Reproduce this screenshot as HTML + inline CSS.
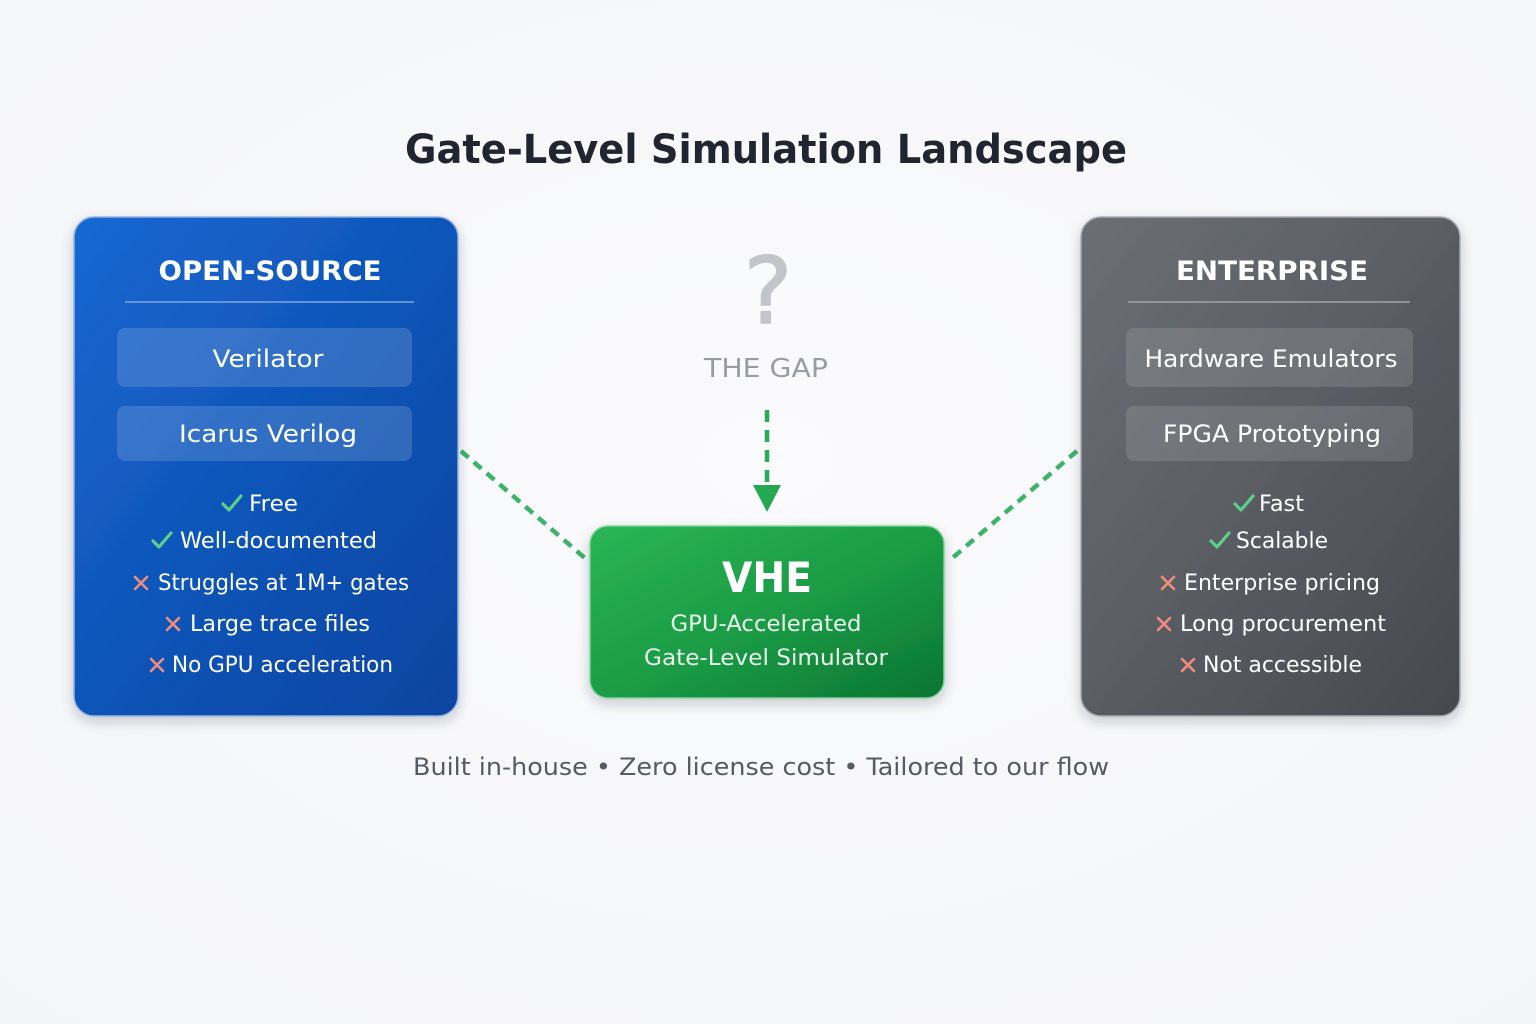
<!DOCTYPE html>
<html><head><meta charset="utf-8"><style>
html,body{margin:0;padding:0;background:#f8f9fb;}
svg{display:block;}
text{font-family:"DejaVu Sans","Liberation Sans",sans-serif;}
</style></head><body>
<svg width="1536" height="1024" viewBox="0 0 1536 1024" xmlns="http://www.w3.org/2000/svg">
<defs>
<radialGradient id="bg" cx="50%" cy="45%" r="75%">
<stop offset="0" stop-color="#fbfbfd"/><stop offset="1" stop-color="#f4f5f8"/>
</radialGradient>
<linearGradient id="blue" x1="0" y1="0" x2="1" y2="1">
<stop offset="0" stop-color="#1868d2"/><stop offset="0.5" stop-color="#0f55b8"/><stop offset="1" stop-color="#0b44a0"/>
</linearGradient>
<linearGradient id="gray" x1="0" y1="0" x2="1" y2="1">
<stop offset="0" stop-color="#6c6f75"/><stop offset="0.5" stop-color="#5a5d63"/><stop offset="1" stop-color="#46494f"/>
</linearGradient>
<linearGradient id="green" x1="0" y1="0" x2="1" y2="1">
<stop offset="0" stop-color="#2bb555"/><stop offset="0.55" stop-color="#1a9a44"/><stop offset="1" stop-color="#0b7433"/>
</linearGradient>
<filter id="sh" x="-10%" y="-10%" width="120%" height="125%">
<feDropShadow dx="0" dy="5" stdDeviation="6" flood-color="#1a2030" flood-opacity="0.22"/>
</filter>
<path id="ck" d="M0,8 L6,14 L18,0" fill="none" stroke="#5dcf8a" stroke-width="3.2" stroke-linecap="round" stroke-linejoin="round"/>
<path id="xx" d="M0,0 L12,12 M12,0 L0,12" fill="none" stroke="#f28d7d" stroke-width="2.6" stroke-linecap="round"/>
</defs>
<rect width="1536" height="1024" fill="url(#bg)"/>

<text x="766" y="163" text-anchor="middle" font-size="40" font-weight="bold" fill="#22252f" textLength="722" lengthAdjust="spacingAndGlyphs">Gate-Level Simulation Landscape</text>

<!-- connectors -->
<line x1="461" y1="451" x2="586" y2="559" stroke="#3bb36a" stroke-width="4.5" stroke-dasharray="10 7"/>
<line x1="1077" y1="451" x2="950" y2="560" stroke="#3bb36a" stroke-width="4.5" stroke-dasharray="10 7"/>
<line x1="767" y1="410" x2="767" y2="487" stroke="#2aa957" stroke-width="4.5" stroke-dasharray="12 8"/>
<polygon points="753,485 781,485 767,512" fill="#24a852"/>

<!-- left panel -->
<rect x="74" y="217" width="384" height="499" rx="20" fill="url(#blue)" stroke="#8fb3e6" stroke-width="1.5" filter="url(#sh)"/>
<text x="270" y="280" text-anchor="middle" font-size="27" font-weight="bold" fill="#fff" textLength="223" lengthAdjust="spacingAndGlyphs">OPEN-SOURCE</text>
<line x1="125" y1="302" x2="414" y2="302" stroke="#7fa6e0" stroke-width="1.5"/>
<rect x="117" y="328" width="295" height="59" rx="8" fill="#ffffff" fill-opacity="0.15"/>
<text x="268" y="367" text-anchor="middle" font-size="24" fill="#fff" textLength="111" lengthAdjust="spacingAndGlyphs">Verilator</text>
<rect x="117" y="406" width="295" height="55" rx="8" fill="#ffffff" fill-opacity="0.15"/>
<text x="268" y="442" text-anchor="middle" font-size="24" fill="#fff" textLength="178" lengthAdjust="spacingAndGlyphs">Icarus Verilog</text>

<use href="#ck" x="223" y="496"/>
<use href="#ck" x="153" y="533"/>
<use href="#xx" x="135" y="577"/>
<use href="#xx" x="167" y="618"/>
<use href="#xx" x="151" y="659"/>
<g font-size="22" fill="#fff">
<text x="249" y="511" textLength="49" lengthAdjust="spacingAndGlyphs">Free</text>
<text x="180" y="548" textLength="197" lengthAdjust="spacingAndGlyphs">Well-documented</text>
<text x="158" y="590" textLength="251" lengthAdjust="spacingAndGlyphs">Struggles at 1M+ gates</text>
<text x="190" y="631" textLength="180" lengthAdjust="spacingAndGlyphs">Large trace files</text>
<text x="172" y="672" textLength="221" lengthAdjust="spacingAndGlyphs">No GPU acceleration</text>
</g>

<!-- right panel -->
<rect x="1081" y="217" width="379" height="499" rx="20" fill="url(#gray)" stroke="#a9abb0" stroke-width="1.5" filter="url(#sh)"/>
<text x="1272" y="280" text-anchor="middle" font-size="27" font-weight="bold" fill="#fff" textLength="192" lengthAdjust="spacingAndGlyphs">ENTERPRISE</text>
<line x1="1128" y1="302" x2="1410" y2="302" stroke="#a2a4a9" stroke-width="1.5"/>
<rect x="1126" y="328" width="287" height="59" rx="8" fill="#ffffff" fill-opacity="0.12"/>
<text x="1271" y="367" text-anchor="middle" font-size="24" fill="#fff" textLength="253" lengthAdjust="spacingAndGlyphs">Hardware Emulators</text>
<rect x="1126" y="406" width="287" height="55" rx="8" fill="#ffffff" fill-opacity="0.12"/>
<text x="1272" y="442" text-anchor="middle" font-size="24" fill="#fff" textLength="218" lengthAdjust="spacingAndGlyphs">FPGA Prototyping</text>

<use href="#ck" x="1235" y="496"/>
<use href="#ck" x="1211" y="533"/>
<use href="#xx" x="1162" y="577"/>
<use href="#xx" x="1158" y="618"/>
<use href="#xx" x="1182" y="659"/>
<g font-size="22" fill="#fff">
<text x="1259" y="511" textLength="45" lengthAdjust="spacingAndGlyphs">Fast</text>
<text x="1236" y="548" textLength="92" lengthAdjust="spacingAndGlyphs">Scalable</text>
<text x="1184" y="590" textLength="196" lengthAdjust="spacingAndGlyphs">Enterprise pricing</text>
<text x="1180" y="631" textLength="206" lengthAdjust="spacingAndGlyphs">Long procurement</text>
<text x="1203" y="672" textLength="159" lengthAdjust="spacingAndGlyphs">Not accessible</text>
</g>

<!-- center -->
<text x="768" y="323" text-anchor="middle" font-size="92" fill="#c3c5cb" stroke="#c3c5cb" stroke-width="1.5">?</text>
<text x="766" y="377" text-anchor="middle" font-size="26" fill="#9a9ca3" textLength="124" lengthAdjust="spacingAndGlyphs">THE GAP</text>

<rect x="590" y="526" width="354" height="172" rx="18" fill="url(#green)" stroke="#7fd49a" stroke-width="1.5" filter="url(#sh)"/>
<text x="767" y="592" text-anchor="middle" font-size="42" font-weight="bold" fill="#fff" textLength="90" lengthAdjust="spacingAndGlyphs">VHE</text>
<text x="766" y="631" text-anchor="middle" font-size="22" fill="#e8f7ec" textLength="191" lengthAdjust="spacingAndGlyphs">GPU-Accelerated</text>
<text x="766" y="665" text-anchor="middle" font-size="22" fill="#e8f7ec" textLength="244" lengthAdjust="spacingAndGlyphs">Gate-Level Simulator</text>

<text x="761" y="775" text-anchor="middle" font-size="24" fill="#555a63" textLength="696" lengthAdjust="spacingAndGlyphs">Built in-house • Zero license cost • Tailored to our flow</text>
</svg>
</body></html>
